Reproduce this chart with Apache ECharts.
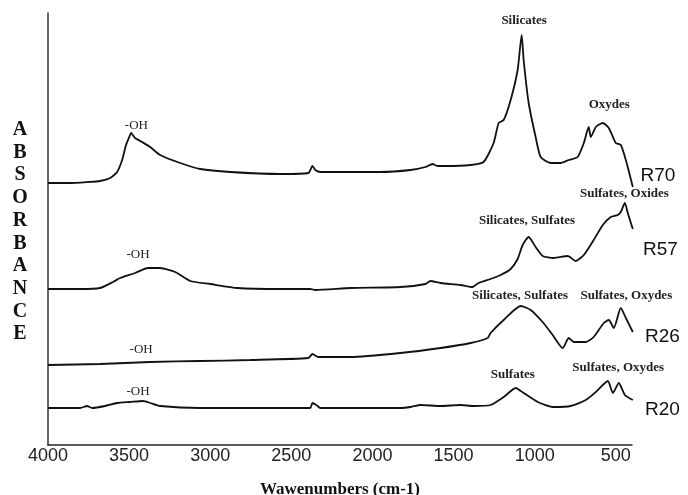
<!DOCTYPE html>
<html>
<head>
<meta charset="utf-8">
<script src="https://cdn.jsdelivr.net/npm/echarts@6/dist/echarts.min.js"></script>
<style>
    html, body { margin: 0; padding: 0; background: #fff; }
    #main { width: 688px; height: 495px; }
</style>
</head>
<body>
<div id="main"></div>
<script>
    // spectra: [wavenumber (cm-1), absorbance (arbitrary, offset per sample)]
    var r70 = [
        [4000, 262], [3864, 262], [3753, 263], [3679, 264], [3617, 267], [3574, 273], [3543, 285],
        [3519, 300], [3494, 310], [3488, 312], [3463, 307], [3420, 303], [3370, 298], [3309, 290],
        [3185, 282], [3062, 276], [2877, 273], [2568, 271], [2395, 272], [2370, 279], [2352, 275],
        [2321, 273], [2136, 273], [1951, 273], [1765, 275], [1673, 278], [1630, 281], [1599, 279],
        [1549, 279], [1395, 280], [1315, 283], [1253, 302], [1222, 322], [1191, 325], [1148, 345],
        [1105, 375], [1080, 410], [1068, 385], [1037, 342], [994, 308], [963, 288], [901, 282],
        [840, 282], [790, 285], [735, 288], [697, 302], [667, 318], [654, 308], [623, 318],
        [580, 322], [543, 317], [500, 302], [469, 300], [438, 285], [395, 258]
    ];
    var r57 = [
        [4000, 156], [3802, 156], [3679, 157], [3599, 163], [3556, 167], [3463, 172], [3383, 177],
        [3309, 177], [3216, 173], [3123, 164], [3000, 161], [2833, 157], [2568, 156], [2383, 156],
        [2352, 155], [2136, 157], [1827, 158], [1673, 161], [1642, 164], [1580, 162], [1457, 160],
        [1383, 158], [1346, 162], [1272, 166], [1210, 170], [1148, 176], [1105, 186], [1074, 200],
        [1037, 208], [994, 198], [951, 189], [883, 187], [796, 189], [747, 184], [697, 190],
        [636, 205], [580, 220], [531, 228], [488, 230], [469, 233], [444, 242], [426, 232], [395, 216]
    ];
    var r26 = [
        [4000, 80], [3679, 81], [3370, 83], [3062, 84], [2753, 85], [2395, 87], [2370, 91],
        [2333, 88], [2136, 88], [1827, 92], [1580, 97], [1395, 102], [1290, 107], [1272, 112],
        [1191, 125], [1086, 139], [1025, 135], [951, 123], [889, 110], [827, 97], [790, 107],
        [759, 103], [685, 103], [636, 108], [574, 122], [543, 125], [512, 117], [469, 137],
        [438, 127], [395, 113]
    ];
    var r20 = [
        [4000, 37], [3802, 37], [3759, 39], [3728, 37], [3648, 39], [3574, 42], [3494, 43],
        [3414, 44], [3370, 42], [3309, 39], [3062, 37], [2444, 37], [2383, 37], [2370, 42],
        [2346, 40], [2321, 37], [1827, 37], [1765, 38], [1704, 40], [1580, 39], [1457, 40],
        [1377, 39], [1272, 40], [1191, 48], [1117, 57], [1068, 52], [981, 43], [883, 38],
        [778, 39], [685, 45], [623, 53], [549, 64], [518, 52], [481, 62], [444, 50], [395, 45]
    ];
    var samples = ['R70', 'R57', 'R26', 'R20'];
    var spectra = [r70, r57, r26, r20];
    var xTicks = [4000, 3500, 3000, 2500, 2000, 1500, 1000, 500];

    // annotations: [wavenumber, absorbance, text, bold]
    var notes = [
        [3455, 319, '-OH', false], [1065, 424, 'Silicates', true], [540, 340, 'Oxydes', true],
        [3445, 190, '-OH', false], [1047, 224, 'Silicates, Sulfates', true], [447, 251, 'Sulfates, Oxides', true],
        [3426, 95, '-OH', false], [1090, 149, 'Silicates, Sulfates', true], [435, 149, 'Sulfates, Oxydes', true],
        [3445, 53, '-OH', false], [1135, 70, 'Sulfates', true], [485, 77, 'Sulfates, Oxydes', true]
    ];
    // sample names at the right end: [wavenumber, absorbance]
    var nameSpots = [[240, 269], [225, 195], [212, 108], [212, 35]];

    var chart = echarts.init(document.getElementById('main'));

    chart.setOption({
        animation: false,
        grid: { left: 48, right: 56, top: 13, bottom: 50, outerBoundsMode: 'none' },
        xAxis: {
            type: 'value',
            inverse: true,
            min: 400,
            max: 4000,
            name: 'Wawenumbers (cm-1)',
            nameLocation: 'middle',
            nameGap: 36,
            nameTextStyle: { fontFamily: 'Liberation Serif', fontWeight: 'bold', fontSize: 17, color: '#111' },
            axisLine: { lineStyle: { color: '#222', width: 1.5 } },
            axisTick: { show: false },
            splitLine: { show: false },
            axisLabel: {
                customValues: xTicks,
                showMinLabel: true,
                margin: 2,
                color: '#222',
                fontFamily: 'Liberation Sans',
                fontSize: 18,
                formatter: function (v) { return String(v); }
            }
        },
        yAxis: {
            type: 'value',
            min: 0,
            max: 432,
            axisLine: { show: true, lineStyle: { color: '#333', width: 1.5 } },
            axisTick: { show: false },
            axisLabel: { show: false },
            splitLine: { show: false }
        },
        series: spectra.map(function (d, i) {
            return {
                name: samples[i],
                type: 'line',
                data: d,
                showSymbol: false,
                smooth: 0.2,
                lineStyle: { color: '#111', width: 1.8 }
            };
        })
    });

    var texts = [];
    notes.forEach(function (n) {
        var p = chart.convertToPixel({ seriesIndex: 0 }, [n[0], n[1]]);
        texts.push({
            type: 'text', x: p[0], y: p[1],
            style: {
                text: n[2], textAlign: 'center', textVerticalAlign: 'middle',
                font: (n[3] ? 'bold ' : '') + '13px "Liberation Serif"', fill: '#222'
            }
        });
    });
    nameSpots.forEach(function (n, i) {
        var p = chart.convertToPixel({ seriesIndex: 0 }, n);
        texts.push({
            type: 'text', x: p[0], y: p[1],
            style: {
                text: samples[i], textAlign: 'center', textVerticalAlign: 'middle',
                font: '19px "Liberation Sans"', fill: '#111'
            }
        });
    });
    texts.push({
        type: 'text', x: 20, y: 232,
        style: {
            text: 'ABSORBANCE'.split('').join('\n'), textAlign: 'center', textVerticalAlign: 'middle',
            font: 'bold 20px "Liberation Serif"', lineHeight: 22.7, fill: '#111'
        }
    });
    chart.setOption({ graphic: texts });
</script>
</body>
</html>
